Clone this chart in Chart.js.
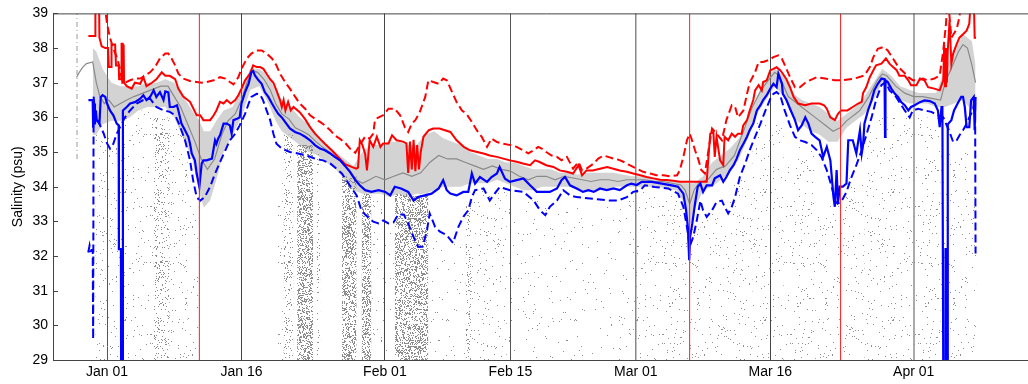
<!DOCTYPE html>
<html>
<head>
<meta charset="utf-8">
<script src="https://cdn.jsdelivr.net/npm/chart.js@4.4.1/dist/chart.umd.min.js"></script>
<style>
  html, body { margin: 0; padding: 0; background: #fff; overflow: hidden; }
  #wrap { width: 1028px; height: 384px; overflow: hidden; }
</style>
</head>
<body>
<div id="wrap"><canvas id="salinityChart" width="1040" height="384"></canvas></div>
<script>
// days counted from Jan 01 00:00
const tickDays = [0, 15, 31, 45, 59, 74, 90];
const tickLabels = ["Jan 01", "Jan 16", "Feb 01", "Feb 15", "Mar 01", "Mar 16", "Apr 01"];
const redMarkDays = [10.3, 65.0, 81.84];

// [day, psu]
const redSolid = [[-2.08,38.35],[-1.34,38.35],[-1.3,39.6],[-0.9,39.6],[-0.85,38.3],[-0.6,38.05],[-0.2,38.0],[0.1,38.0],[0.2,37.45],[0.45,37.45],[0.5,38.1],[0.9,38.1],[1.0,37.5],[1.3,37.5],[1.35,37.1],[1.6,37.1],[1.62,38.15],[1.7,37.0],[1.75,38.15],[1.8,37.05],[1.85,38.1],[1.9,37.0],[2.2,36.9],[2.75,36.83],[3.1,37.0],[3.7,36.97],[4.05,37.16],[4.4,36.9],[5.0,37.0],[5.5,37.1],[6.1,37.3],[6.5,37.2],[7.0,37.2],[7.6,37.1],[7.95,36.83],[8.5,36.6],[9.26,36.45],[10.0,36.06],[10.4,36.06],[10.75,35.92],[11.5,35.92],[11.9,36.06],[12.2,36.2],[12.6,36.45],[13.0,36.4],[13.35,36.5],[13.8,36.4],[14.3,36.5],[14.65,36.64],[15.0,36.83],[15.4,37.07],[15.95,37.26],[16.3,37.5],[16.7,37.45],[17.07,37.45],[17.44,37.4],[17.8,37.26],[18.2,37.1],[18.56,37.0],[18.9,36.78],[19.3,36.5],[19.5,36.3],[19.7,36.5],[19.9,36.2],[20.2,36.45],[20.5,36.2],[20.8,36.3],[21.5,36.15],[22.1,35.95],[22.65,35.72],[23.2,35.53],[23.76,35.38],[24.3,35.24],[25.07,35.05],[25.8,34.85],[26.55,34.65],[27.3,34.57],[27.8,34.52],[28.0,34.55],[28.2,35.34],[28.5,35.2],[28.8,34.94],[29.0,34.47],[29.3,35.34],[29.7,35.15],[30.1,35.44],[30.5,35.15],[30.8,35.25],[31.4,35.25],[31.8,35.48],[32.3,35.34],[33.0,35.3],[33.4,35.25],[33.6,34.4],[33.8,35.3],[34.0,34.5],[34.2,35.35],[34.4,34.45],[34.6,35.2],[34.8,34.5],[35.0,35.0],[35.3,35.44],[35.9,35.63],[36.4,35.68],[37.1,35.68],[37.7,35.63],[38.3,35.58],[39.0,35.34],[39.8,35.15],[40.5,35.05],[41.3,35.0],[42.0,34.96],[42.7,34.9],[43.5,34.86],[44.2,34.81],[44.96,34.76],[45.7,34.72],[46.4,34.67],[47.2,34.62],[47.75,34.76],[48.2,34.72],[49.0,34.62],[49.8,34.57],[50.5,34.47],[51.3,34.43],[52.0,34.38],[52.6,34.62],[53.0,34.33],[53.5,34.47],[54.2,34.47],[55.0,34.52],[55.8,34.57],[56.5,34.52],[57.2,34.47],[58.0,34.43],[58.7,34.38],[59.5,34.33],[60.2,34.28],[60.95,34.24],[61.7,34.2],[62.4,34.19],[63.2,34.17],[63.9,34.14],[64.9,34.14],[66.9,34.14],[67.1,34.86],[67.3,35.53],[67.65,35.58],[67.8,34.86],[68.0,35.44],[68.4,34.76],[68.75,34.62],[68.9,35.44],[69.3,35.34],[69.7,35.53],[70.07,35.44],[70.4,35.53],[70.8,35.53],[70.98,35.77],[71.4,35.92],[71.7,36.2],[72.1,36.5],[72.3,36.78],[72.7,36.93],[73.05,36.78],[73.2,37.02],[73.6,37.07],[74.0,37.36],[74.35,37.4],[74.7,37.45],[75.1,37.36],[75.4,37.26],[75.8,37.1],[76.2,36.87],[76.6,36.59],[77.1,36.4],[77.9,36.35],[78.6,36.4],[79.5,36.4],[80.0,36.35],[80.3,36.25],[80.7,36.0],[81.2,35.92],[81.55,36.1],[81.9,36.2],[82.6,36.2],[83.2,36.3],[83.8,36.4],[84.2,36.45],[84.35,36.7],[84.7,36.87],[85.1,37.16],[85.5,37.36],[85.8,37.5],[86.4,37.55],[86.9,37.7],[87.3,37.55],[87.7,37.45],[88.1,37.36],[88.4,37.2],[89.0,37.2],[89.4,37.07],[89.7,36.93],[90.3,36.93],[90.7,37.12],[91.2,37.07],[91.6,36.87],[92.3,36.83],[92.9,36.78],[93.3,37.07],[93.4,38.1],[93.5,36.9],[93.6,38.0],[93.7,37.0],[93.8,37.93],[94.0,38.8],[94.2,37.55],[94.4,37.84],[94.8,38.12],[95.1,38.3],[95.5,38.4],[95.9,38.5],[96.2,38.7],[96.4,39.5],[96.7,39.5],[96.8,38.3],[96.95,38.3]];

const redDashed = [[-0.3,39.3],[0.0,38.7],[0.33,38.3],[0.7,37.98],[1.08,37.74],[1.4,37.45],[1.64,37.1],[2.0,37.0],[2.57,37.07],[3.1,37.12],[3.7,37.12],[4.2,37.2],[4.8,37.3],[5.35,37.45],[5.9,37.7],[6.5,37.84],[6.84,37.84],[7.2,37.7],[7.6,37.5],[7.96,37.26],[8.5,37.12],[9.26,37.05],[10.0,37.02],[10.56,37.0],[11.1,37.02],[11.9,37.07],[12.6,37.16],[13.2,37.12],[13.7,37.02],[14.1,36.95],[14.65,37.16],[15.0,37.4],[15.6,37.7],[16.1,37.84],[16.7,37.93],[17.25,37.93],[17.8,37.84],[18.4,37.7],[18.9,37.5],[19.3,37.26],[19.86,37.02],[20.4,36.83],[21.0,36.59],[21.5,36.4],[22.1,36.25],[22.65,36.06],[23.2,35.96],[23.76,35.87],[24.3,35.77],[24.9,35.63],[25.4,35.48],[26.0,35.38],[26.55,35.27],[27.1,35.1],[27.7,34.98],[28.2,35.2],[28.8,35.45],[29.3,35.39],[29.7,35.53],[29.9,35.94],[30.3,36.0],[30.8,36.06],[31.4,36.25],[32.1,36.25],[32.7,36.06],[33.25,35.7],[33.6,35.58],[34.0,35.82],[34.4,35.92],[34.9,36.16],[35.5,36.59],[35.85,37.07],[36.4,37.02],[37.0,36.97],[37.5,37.12],[37.9,37.07],[38.5,36.73],[39.0,36.44],[39.6,36.2],[40.1,36.1],[40.7,35.87],[41.25,35.63],[41.8,35.44],[42.4,35.15],[42.9,35.39],[43.5,35.29],[44.2,35.24],[45.0,35.2],[45.7,35.15],[46.4,35.05],[47.0,34.96],[47.6,35.05],[48.1,35.15],[48.5,35.1],[49.0,35.0],[49.6,34.9],[50.2,34.86],[50.7,34.76],[51.3,34.86],[51.7,34.67],[52.0,34.52],[52.6,34.71],[53.0,34.47],[53.5,34.52],[54.3,34.67],[54.8,34.81],[55.4,34.9],[55.9,34.86],[56.5,34.81],[57.05,34.78],[57.6,34.72],[58.3,34.62],[59.1,34.52],[59.8,34.43],[60.6,34.38],[61.3,34.33],[62.1,34.33],[62.8,34.3],[63.6,34.33],[63.9,34.47],[64.3,34.86],[64.7,35.34],[65.0,35.53],[65.2,35.39],[65.6,35.05],[66.0,34.76],[66.3,34.48],[66.7,34.38],[67.1,35.05],[67.5,35.68],[68.0,35.53],[68.6,35.34],[69.1,35.92],[69.7,36.35],[70.07,36.3],[70.4,36.0],[71.0,36.2],[71.4,36.68],[71.7,37.0],[72.3,37.3],[72.7,37.6],[73.2,37.6],[73.8,37.65],[74.35,37.74],[74.9,37.79],[75.3,37.69],[75.8,37.4],[76.2,37.16],[76.75,36.87],[77.3,36.87],[77.9,37.0],[78.4,37.07],[79.2,37.16],[80.1,37.12],[81.2,37.07],[81.9,37.07],[83.4,37.12],[84.5,37.21],[85.1,37.45],[85.5,37.74],[86.0,37.98],[86.6,38.03],[87.1,37.93],[87.7,37.69],[88.3,37.45],[88.9,37.3],[89.4,37.16],[89.9,37.07],[90.5,37.07],[91.0,37.12],[91.6,37.07],[92.3,37.12],[92.9,37.21],[93.3,37.93],[93.6,38.7],[93.8,39.5],[94.2,38.3],[94.8,38.55],[95.1,38.9],[95.4,39.5]];

const blueSolid = [[-2.08,36.5],[-1.6,36.5],[-1.55,35.7],[-1.45,36.4],[-1.35,35.8],[-1.25,36.2],[-1.15,35.92],[-0.85,35.82],[-0.7,36.59],[-0.5,36.64],[-0.2,36.59],[0.0,36.4],[0.33,36.2],[0.7,36.06],[1.08,35.82],[1.3,35.77],[1.32,32.2],[1.55,32.2],[1.57,28.5],[1.75,28.5],[1.77,36.2],[2.2,36.3],[2.57,36.4],[3.1,36.44],[3.7,36.54],[4.05,36.64],[4.4,36.5],[4.8,36.59],[5.2,36.78],[5.5,36.59],[5.9,36.73],[6.3,36.5],[6.5,36.75],[6.84,36.72],[7.0,36.3],[7.4,36.3],[7.8,36.35],[7.96,36.2],[8.3,35.82],[8.7,35.63],[9.07,35.44],[9.26,35.24],[9.45,34.96],[9.8,34.76],[10.0,34.38],[10.3,34.0],[10.56,34.67],[10.75,34.76],[11.1,34.76],[11.7,34.81],[11.86,35.05],[12.05,35.34],[12.2,35.24],[12.4,35.39],[12.6,35.48],[13.0,35.82],[13.35,35.82],[13.7,35.77],[13.9,35.53],[14.1,35.92],[14.5,35.96],[14.8,36.0],[15.0,36.4],[15.4,36.73],[15.8,36.97],[16.1,37.3],[16.3,37.34],[16.5,37.21],[16.9,37.07],[17.25,36.97],[17.6,36.73],[18.0,36.59],[18.4,36.4],[18.74,36.25],[19.1,36.1],[19.5,36.0],[19.86,35.87],[20.4,35.68],[20.97,35.58],[21.5,35.53],[22.1,35.44],[22.65,35.34],[23.2,35.2],[23.76,35.1],[24.3,35.05],[24.9,34.96],[25.4,34.86],[26.0,34.76],[26.55,34.6],[27.1,34.43],[27.7,34.19],[28.2,34.04],[28.8,33.9],[29.5,33.85],[30.3,33.9],[31.05,33.85],[31.6,33.75],[32.1,34.0],[32.8,33.95],[33.6,33.85],[34.2,33.6],[34.7,33.7],[35.45,33.75],[36.2,33.8],[37.0,33.95],[37.5,34.19],[37.9,33.9],[38.3,33.8],[39.0,33.75],[39.75,33.85],[40.3,33.85],[40.7,34.38],[41.06,34.09],[41.6,34.28],[42.4,34.14],[42.9,34.28],[43.5,34.38],[43.8,34.57],[44.4,34.23],[44.96,34.14],[45.7,34.19],[46.45,34.24],[47.2,34.04],[47.95,33.85],[48.7,33.85],[49.4,33.85],[50.2,33.95],[50.7,34.19],[51.1,34.28],[51.65,34.04],[52.4,33.95],[53.1,33.85],[53.7,33.9],[54.3,33.85],[55.0,33.95],[55.75,33.9],[56.5,33.95],[57.2,33.9],[58.0,34.04],[58.5,34.09],[59.1,34.05],[59.65,34.14],[60.8,34.14],[61.9,34.09],[63.0,34.04],[63.7,34.0],[64.3,33.8],[64.6,33.32],[64.8,32.84],[64.95,31.88],[65.05,32.55],[65.3,32.94],[65.6,33.51],[65.9,34.0],[66.2,34.09],[66.5,33.85],[66.9,34.04],[67.5,34.04],[67.8,34.24],[68.4,34.33],[68.75,34.14],[69.1,34.28],[69.5,34.48],[69.9,34.62],[70.25,34.81],[70.6,35.05],[71.0,35.24],[71.4,35.44],[71.7,35.63],[72.1,35.82],[72.5,36.2],[72.9,36.35],[73.2,36.5],[73.6,36.64],[74.0,36.83],[74.35,36.97],[74.7,36.87],[74.9,37.26],[75.3,36.97],[75.4,36.68],[75.8,36.5],[76.2,36.25],[76.75,35.92],[77.1,35.63],[77.5,35.77],[77.9,36.0],[78.25,35.82],[78.6,35.53],[79.0,35.44],[79.5,35.34],[79.9,34.86],[80.3,35.15],[80.7,34.76],[81.05,33.7],[81.2,33.42],[81.4,34.48],[81.55,33.51],[81.75,34.0],[82.1,34.0],[82.5,34.09],[82.7,35.34],[83.2,35.34],[83.6,34.96],[84.0,35.63],[84.2,34.96],[84.35,35.2],[84.5,35.82],[84.9,36.2],[85.3,36.49],[85.6,36.78],[86.0,36.97],[86.4,37.12],[86.75,37.1],[86.8,35.44],[86.85,37.07],[87.1,37.02],[87.5,36.83],[87.9,36.68],[88.25,36.59],[88.6,36.44],[89.0,36.35],[89.4,36.2],[89.7,36.3],[90.1,36.35],[90.7,36.44],[91.2,36.49],[91.8,36.47],[92.35,36.4],[92.7,36.2],[92.9,35.72],[93.1,36.3],[93.2,36.3],[93.3,28.5],[93.5,28.5],[93.55,32.2],[93.65,32.2],[93.7,28.5],[93.75,28.5],[93.8,35.8],[94.2,35.92],[94.5,36.2],[94.9,36.4],[95.3,36.59],[95.5,36.59],[95.7,36.3],[95.9,35.72],[96.2,35.72],[96.4,36.49],[96.7,36.59],[96.8,35.63],[96.9,36.59]];

const blueDashed = [[-2.1,32.1],[-1.95,32.3],[-1.85,32.15],[-1.6,32.2],[-1.55,29.6],[-1.5,36.6],[-1.3,36.0],[-1.0,35.9],[-0.4,35.55],[0.0,35.25],[0.33,35.1],[0.7,35.24],[1.08,35.53],[1.45,35.72],[2.0,36.0],[2.57,36.2],[3.3,36.4],[4.05,36.5],[4.8,36.54],[5.5,36.3],[6.3,36.2],[7.0,36.16],[7.6,36.06],[8.1,35.77],[8.7,35.34],[9.26,34.76],[9.6,34.19],[10.0,33.7],[10.4,33.6],[10.9,33.7],[11.5,34.0],[12.05,34.38],[12.6,34.71],[13.2,35.05],[13.7,35.34],[14.3,35.53],[14.8,35.77],[15.4,36.1],[15.8,36.4],[16.1,36.59],[16.7,36.68],[17.07,36.66],[17.4,36.5],[17.8,36.2],[18.2,35.92],[18.56,35.53],[18.9,35.24],[19.5,35.1],[20.4,35.0],[21.3,34.96],[22.3,34.9],[23.2,34.81],[24.1,34.76],[24.9,34.67],[25.6,34.52],[26.2,34.38],[26.7,34.19],[27.3,33.95],[27.85,33.75],[28.4,33.3],[28.8,33.2],[29.3,33.08],[29.7,32.99],[30.3,32.94],[30.8,33.03],[31.4,32.94],[31.96,32.97],[32.5,33.2],[33.1,33.2],[33.6,32.94],[34.2,32.55],[34.7,32.27],[35.2,32.27],[35.5,32.55],[35.7,32.75],[36.0,33.23],[36.6,32.84],[37.15,32.7],[37.9,32.6],[38.6,32.38],[39.2,32.84],[39.75,33.13],[40.3,33.32],[40.7,33.7],[41.06,33.9],[42.0,33.95],[42.7,33.6],[43.1,33.75],[43.8,33.99],[44.96,33.9],[46.45,33.85],[47.6,33.6],[48.3,33.32],[48.9,33.18],[49.4,33.42],[50.2,33.6],[50.9,33.9],[51.65,33.75],[52.4,33.7],[53.9,33.66],[55.0,33.63],[56.1,33.6],[57.0,33.6],[58.0,33.7],[58.7,33.85],[59.5,33.9],[60.0,34.04],[61.1,33.99],[62.6,33.95],[63.7,33.8],[64.3,33.42],[64.7,32.84],[65.0,32.27],[65.4,32.55],[65.8,33.03],[66.2,33.6],[66.5,33.32],[66.9,33.13],[67.5,33.32],[68.0,33.56],[68.6,33.6],[68.9,33.42],[69.3,33.23],[69.7,33.42],[70.07,33.7],[70.6,34.28],[71.2,34.67],[71.7,35.05],[72.3,35.44],[72.9,35.82],[73.4,36.16],[74.0,36.54],[74.35,36.68],[74.7,36.73],[75.1,36.64],[75.6,36.2],[76.2,35.77],[76.75,35.44],[77.3,35.34],[77.9,35.29],[78.6,35.2],[79.2,35.05],[79.7,34.86],[80.3,34.48],[80.85,34.0],[81.2,33.6],[81.5,33.51],[81.9,33.56],[82.5,33.85],[83.0,34.24],[83.6,34.62],[84.2,35.05],[84.7,35.48],[85.3,36.0],[85.8,36.5],[86.4,36.93],[86.9,37.02],[87.3,36.78],[87.9,36.64],[88.4,36.44],[89.0,36.2],[89.55,36.0],[89.9,36.2],[90.5,36.25],[91.2,36.2],[91.97,36.16],[92.7,36.06],[93.3,36.0],[93.6,35.82],[94.0,35.58],[94.4,35.29],[94.8,35.34],[95.1,35.48],[95.5,35.63],[95.9,35.82],[96.2,36.0],[96.6,36.2],[96.8,36.5],[96.85,36.5],[96.9,32.07]];

const grayLine = [[-3.4,37.15],[-3.1,37.3],[-2.7,37.45],[-2.3,37.55],[-1.6,37.6],[-1.2,37.0],[-0.8,36.6],[-0.3,36.4],[0.2,36.5],[0.8,36.3],[1.5,36.4],[2.2,36.5],[3.0,36.6],[4.0,36.7],[5.0,36.8],[6.0,36.9],[6.8,36.9],[7.5,36.6],[8.2,36.3],[9.0,35.8],[9.8,35.3],[10.5,34.8],[11.2,34.5],[12.0,34.8],[12.8,35.5],[13.5,35.9],[14.3,36.1],[15.0,36.5],[15.6,37.0],[16.2,37.35],[16.8,37.3],[17.5,37.1],[18.2,36.8],[18.8,36.4],[19.5,36.1],[20.3,35.95],[21.0,35.7],[21.8,35.6],[22.5,35.5],[23.3,35.3],[24.0,35.15],[24.8,35.0],[25.5,34.85],[26.2,34.7],[27.0,34.5],[27.8,34.2],[28.5,34.1],[29.3,34.2],[30.0,34.3],[31.0,34.2],[32.0,34.3],[33.0,34.4],[34.0,34.3],[35.0,34.4],[36.0,34.7],[37.0,34.9],[38.0,34.8],[39.0,34.8],[40.0,34.7],[41.0,34.6],[42.0,34.5],[43.0,34.6],[44.0,34.5],[45.0,34.45],[46.0,34.3],[47.0,34.2],[48.0,34.3],[49.0,34.3],[50.0,34.2],[51.0,34.3],[52.0,34.25],[53.0,34.2],[54.0,34.15],[55.0,34.2],[56.0,34.2],[57.0,34.15],[58.0,34.2],[59.0,34.2],[60.0,34.2],[61.0,34.15],[62.0,34.15],[63.0,34.1],[64.0,34.05],[64.5,33.9],[65.0,33.5],[65.5,33.9],[66.0,34.1],[67.0,34.2],[68.0,34.5],[69.0,34.6],[70.0,34.9],[71.0,35.6],[72.0,36.3],[73.0,36.8],[74.0,37.15],[74.5,37.3],[75.0,37.2],[75.5,36.9],[76.0,36.6],[76.5,36.5],[77.0,36.4],[78.0,36.2],[79.0,36.0],[80.0,35.8],[81.0,35.6],[81.8,35.7],[82.5,35.9],[83.0,36.0],[83.5,36.1],[84.0,36.2],[85.0,36.6],[86.0,37.1],[86.5,37.25],[87.0,37.2],[88.0,36.9],[89.0,36.7],[90.0,36.6],[91.0,36.6],[92.0,36.55],[93.0,36.5],[93.5,37.0],[94.0,37.3],[94.5,37.6],[95.0,37.9],[95.5,38.1],[96.0,38.0],[96.5,37.5],[96.9,37.0]];

// spread of the noisy gray record: [day, low, high]
const grayRange = [[-1.6,35.5,38.0],[-1.2,35.5,37.9],[-0.5,35.8,37.4],[0.5,35.9,37.0],[1.5,35.9,36.9],[2.5,36.0,36.9],[3.5,36.2,36.9],[4.5,36.3,37.0],[5.5,36.3,37.0],[6.5,36.3,37.1],[7.5,36.0,37.0],[8.5,35.4,36.6],[9.5,34.8,36.2],[10.3,33.8,35.9],[10.8,33.4,35.6],[11.5,33.6,35.6],[12.2,34.2,35.9],[13.0,35.0,36.2],[14.0,35.5,36.3],[15.0,36.0,36.8],[16.0,36.8,37.4],[17.0,36.9,37.4],[18.0,36.4,37.2],[18.8,35.9,36.8],[19.5,35.6,36.5],[20.5,35.4,36.3],[21.5,35.2,36.0],[22.5,35.0,35.8],[23.5,34.9,35.5],[24.5,34.7,35.2],[25.5,34.5,35.0],[26.5,34.2,34.8],[27.5,33.9,34.6],[28.5,33.8,35.0],[29.5,33.8,35.2],[30.5,33.8,35.2],[31.5,33.7,35.3],[32.5,33.8,35.3],[33.5,33.7,35.2],[34.5,33.8,35.2],[35.5,33.8,35.5],[36.5,33.9,35.6],[37.5,34.0,35.4],[38.5,34.0,35.3],[39.5,34.0,35.2],[40.5,34.1,35.0],[41.5,34.1,34.9],[42.5,34.1,34.8],[43.5,34.2,34.8],[44.5,34.1,34.7],[45.5,34.0,34.7],[46.5,33.9,34.6],[47.5,33.9,34.5],[48.5,34.0,34.5],[49.5,34.0,34.5],[50.5,34.0,34.4],[51.5,34.0,34.4],[52.5,33.9,34.35],[53.5,33.9,34.4],[54.5,33.9,34.4],[55.5,33.9,34.4],[56.5,34.0,34.4],[57.5,34.0,34.35],[58.5,34.0,34.3],[59.5,34.0,34.3],[60.5,34.0,34.25],[61.5,34.0,34.2],[62.5,33.95,34.2],[63.5,33.9,34.15],[64.5,33.5,34.1],[65.0,32.8,34.1],[65.5,33.3,34.1],[66.5,33.9,34.3],[67.5,34.0,34.7],[68.5,34.2,34.9],[69.5,34.4,35.1],[70.5,34.8,35.4],[71.5,35.4,35.9],[72.5,36.1,36.6],[73.5,36.5,37.1],[74.5,36.9,37.4],[75.5,36.6,37.2],[76.5,36.0,36.7],[77.5,35.8,36.5],[78.5,35.6,36.4],[79.5,35.5,36.3],[80.5,35.3,36.1],[81.5,35.3,35.9],[82.5,35.7,36.1],[83.5,35.9,36.3],[84.5,36.1,36.6],[85.5,36.5,37.0],[86.5,37.0,37.4],[87.5,36.8,37.2],[88.5,36.5,36.9],[89.5,36.4,36.8],[90.5,36.4,36.7],[91.5,36.4,36.7],[92.5,36.3,36.7],[93.5,36.3,37.4],[94.5,36.4,37.9],[95.5,36.5,38.4],[96.5,36.2,38.2],[96.9,36.3,37.5]];

const grayStart = [[-3.35,34.8],[-3.35,39.0]];

// scattered samples: [from day, to day, highest psu], grouped by how thick they lie
const dotsFaint = [[29.5,32.1,33.6],[35.9,40.0,32.6],[44.6,52.0,33.6],[52.0,59.0,33.6]];
const dotsLight = [[-1.3,2.0,35.6],[2.0,5.2,36.2],[7.0,9.0,35.8],[9.0,10.2,34.0],[19.0,19.7,35.2],[40.6,44.6,33.9],[59.0,64.2,33.9],[64.2,66.2,32.8],[66.2,69.5,33.3],[69.5,72.0,34.2],[72.0,75.5,35.9],[75.5,79.0,35.2],[79.0,82.0,33.5],[82.0,84.5,34.4],[84.5,86.0,35.6],[86.0,93.0,36.0],[93.0,97.0,35.0]];
const dotsMedium = [[5.2,7.0,36.0],[19.7,20.8,35.5],[23.4,23.8,35.0],[40.0,40.6,33.5]];
const dotsDense = [[21.2,23.0,35.2],[26.2,27.85,34.3],[28.4,29.5,33.8],[32.1,35.85,33.8]];

const pts = arr => arr.map(p => ({ x: p[0], y: p[1] }));

function bandPoints(bands) {
  const out = [];
  bands.forEach(b => {
    out.push({ x: b[0], y: b[2] }, { x: b[1], y: b[2] }, { x: b[1], y: null });
  });
  return out;
}

// speckle texture for the scattered samples (hashed, so it is the same every run)
function stipple(density, shade, seed) {
  const n = 128;
  const c = document.createElement("canvas");
  c.width = n;
  c.height = n;
  const g = c.getContext("2d");
  g.fillStyle = shade;
  for (let k = 0; k < n * n; k++) {
    let h = (k + seed * 0x27d4eb2d) | 0;
    h ^= h >>> 16;
    h = Math.imul(h, 0x85ebca6b);
    h ^= h >>> 13;
    h = Math.imul(h, 0xc2b2ae35);
    h ^= h >>> 16;
    h = Math.imul(h ^ 0x5bd1e995, 0x9e3779b1);
    h = (h ^ (h >>> 15)) >>> 0;
    if (h / 4294967296 < density) g.fillRect(k % n, Math.floor(k / n), 1, 1);
  }
  return g.createPattern(c, "repeat");
}

function dotLayer(bands, density, shade, order) {
  return {
    data: bandPoints(bands),
    borderWidth: 0,
    pointRadius: 0,
    fill: "start",
    backgroundColor: stipple(density, shade, order),
    spanGaps: false,
    order: order,
  };
}

const datasets = [];

redMarkDays.forEach(d => {
  datasets.push({
    data: [{ x: d, y: 29 }, { x: d, y: 39 }],
    borderColor: "#ff2020",
    borderWidth: 1,
    pointRadius: 0,
    order: 0,
  });
});

datasets.push(
  { data: pts(blueSolid), borderColor: "#0000ff", borderWidth: 2.2, pointRadius: 0, order: 1 },
  { data: pts(redSolid), borderColor: "#ff0000", borderWidth: 2, pointRadius: 0, order: 2 },
  { data: pts(blueDashed), borderColor: "#0000ff", borderWidth: 2, borderDash: [8, 4], pointRadius: 0, order: 3 },
  { data: pts(redDashed), borderColor: "#ff0000", borderWidth: 2, borderDash: [8, 4], pointRadius: 0, order: 4 },
  { data: pts(grayLine), borderColor: "#8a8a8a", borderWidth: 1.2, pointRadius: 0, order: 5 },
  { data: pts(grayStart), borderColor: "#999", borderWidth: 1, borderDash: [5, 3, 1, 3], pointRadius: 0, order: 5 },
  { data: grayRange.map(r => ({ x: r[0], y: r[1] })), borderWidth: 0, pointRadius: 0, order: 6 },
  {
    data: grayRange.map(r => ({ x: r[0], y: r[2] })),
    borderWidth: 0,
    pointRadius: 0,
    fill: "-1",
    backgroundColor: "rgba(140,140,140,0.38)",
    order: 6,
  },
  dotLayer(dotsDense, 0.34, "#8c8c8c", 7),
  dotLayer(dotsMedium, 0.10, "#8c8c8c", 8),
  dotLayer(dotsLight, 0.022, "#909090", 9),
  dotLayer(dotsFaint, 0.009, "#909090", 10)
);

const tickColors = ["#555", "#444", "#444", "#555", "#888", "#444", "#aaa"];
const tickWidths = [1, 1, 1, 1, 1.5, 1, 2];

const frame = {
  id: "frame",
  afterDatasetsDraw(chart) {
    const { ctx, chartArea: a, scales } = chart;
    ctx.save();
    ctx.strokeStyle = "#444";
    ctx.lineWidth = 1;
    ctx.beginPath();
    ctx.moveTo(a.left, a.top + 0.5);
    ctx.lineTo(a.right, a.top + 0.5);
    scales.y.ticks.forEach(t => {
      const py = Math.round(scales.y.getPixelForValue(t.value)) + 0.5;
      ctx.moveTo(a.left, py);
      ctx.lineTo(a.left + 5, py);
    });
    ctx.stroke();
    ctx.restore();
  },
};

Chart.defaults.font.family = "'Liberation Sans', Arial, sans-serif";
Chart.defaults.font.size = 14;
Chart.defaults.color = "#000";

new Chart(document.getElementById("salinityChart"), {
  type: "line",
  data: { datasets: datasets },
  options: {
    responsive: false,
    maintainAspectRatio: false,
    devicePixelRatio: 1,
    animation: false,
    events: [],
    layout: { padding: { top: 13, right: 0, bottom: 0, left: 0 } },
    elements: { line: { tension: 0 } },
    plugins: {
      legend: { display: false },
      tooltip: { enabled: false },
    },
    scales: {
      x: {
        type: "linear",
        min: -6.03,
        max: 104.09,
        afterBuildTicks: scale => {
          scale.ticks = tickDays.map(v => ({ value: v }));
        },
        afterFit: scale => {
          scale.height = 24;
        },
        ticks: {
          autoSkip: false,
          maxRotation: 0,
          padding: 4,
          callback: (value, i) => tickLabels[i],
        },
        grid: {
          drawTicks: false,
          color: c => tickColors[c.index] || "#444",
          lineWidth: c => tickWidths[c.index] || 1,
        },
        border: { display: true, color: "#444", width: 1 },
      },
      y: {
        min: 29,
        max: 39,
        afterFit: scale => {
          scale.width = 53;
        },
        ticks: { stepSize: 1, padding: 5 },
        grid: { display: false, drawTicks: false },
        border: { display: true, color: "#444", width: 1 },
        title: {
          display: true,
          text: "Salinity (psu)",
          font: { size: 14 },
          padding: { top: 10, bottom: 0 },
        },
      },
    },
  },
  plugins: [frame],
});
</script>
</body>
</html>
